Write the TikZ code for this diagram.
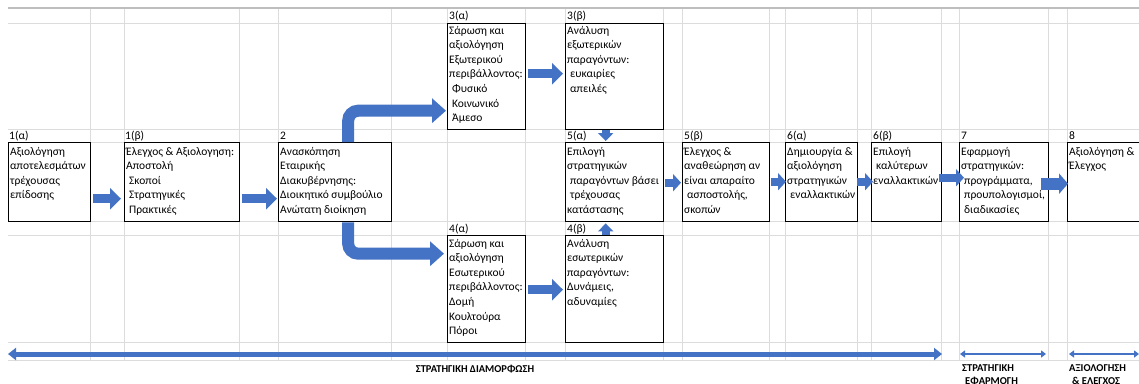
\documentclass[tikz,border=0pt]{standalone}
\usepackage{fontspec}
\setmainfont{Carlito}
\usetikzlibrary{arrows.meta}
\definecolor{arrowblue}{HTML}{4472C4}
\definecolor{gridgray}{HTML}{DCDCDC}
\definecolor{headgray}{HTML}{BEBEBE}
\newcommand{\cellfont}{\fontsize{11.5}{14.6}\selectfont}
\newcommand{\ind}{\hspace*{3pt}}
\newcommand{\celltext}[1]{\parbox[t]{200pt}{\raggedright #1}}

\begin{document}
\begin{tikzpicture}[x=1pt,y=-1pt,
  box/.style={draw=black, line width=1.4pt, fill=white, anchor=north west, inner sep=0pt},
  cell/.style={anchor=base west, inner sep=0pt, font=\cellfont},
  phase/.style={anchor=base west, inner sep=0pt, font=\fontsize{10.5}{13.5}\selectfont\bfseries},
  flow/.style={draw=arrowblue, line width=9pt, -{Triangle[length=11pt,width=21pt]}},
  flowsm/.style={draw=arrowblue, line width=8pt, -{Triangle[length=8pt,width=17pt]}},
  flowbent/.style={draw=arrowblue, line width=12pt, rounded corners=10pt, -{Triangle[length=14pt,width=24pt]}},
  span/.style={draw=arrowblue, line width=5pt, {Triangle[length=8pt,width=12pt]}-{Triangle[length=8pt,width=12pt]}},
  spansm/.style={draw=arrowblue, line width=2.5pt, {Triangle[length=5pt,width=7pt]}-{Triangle[length=5pt,width=7pt]}}]

\useasboundingbox (0,0) rectangle (1139,383);
\fill[white] (0,0) rectangle (1139,383);

% spreadsheet grid
\foreach \gx in {90,124,239,278,391,447,525,565,663,682,769,785,857,871,941,959,1048,1067}
  \draw[gridgray, line width=0.8pt] (\gx,8) -- (\gx,360);
\foreach \gy in {23,129,142,221,235,342,360}
  \draw[gridgray, line width=0.8pt] (8,\gy) -- (1139,\gy);
\draw[headgray, line width=1.5pt] (8,8) -- (1139,8);

% step labels
\node[cell] (l1a) at (9,139) {1(α)};
\node[cell] (l1b) at (125,139) {1(β)};
\node[cell] (l2)  at (280,139) {2};
\node[cell] (l3a) at (449,19) {3(α)};
\node[cell] (l3b) at (567,19) {3(β)};
\node[cell] (l5a) at (567,139) {5(α)};
\node[cell] (l5b) at (684,139) {5(β)};
\node[cell] (l6a) at (787,139) {6(α)};
\node[cell] (l6b) at (873,139) {6(β)};
\node[cell] (l7)  at (961,139) {7};
\node[cell] (l8)  at (1069,139) {8};
\node[cell] (l4a) at (449,232) {4(α)};
\node[cell] (l4b) at (567,232) {4(β)};

% boxes
\node[box, minimum width=82, minimum height=79] (s1a) at (8,142) {};
\node[box, minimum width=115, minimum height=79] (s1b) at (124,142) {};
\node[box, minimum width=113, minimum height=79] (s2) at (278,142) {};
\node[box, minimum width=78, minimum height=106] (s3a) at (447,23) {};
\node[box, minimum width=98, minimum height=106] (s3b) at (565,23) {};
\node[box, minimum width=98, minimum height=79] (s5a) at (565,142) {};
\node[box, minimum width=78, minimum height=107] (s4a) at (447,235) {};
\node[box, minimum width=98, minimum height=107] (s4b) at (565,235) {};
\node[box, minimum width=87, minimum height=79] (s5b) at (682,142) {};
\node[box, minimum width=72, minimum height=79] (s6a) at (785,142) {};
\node[box, minimum width=70, minimum height=79] (s6b) at (871,142) {};
\node[box, minimum width=89, minimum height=79] (s7) at (959,142) {};
\node[box, minimum width=80, minimum height=79] (s8) at (1067,142) {};

% box texts
\node[cell] (t1a) at (10,155) {\celltext{Αξιολόγηση\\αποτελεσμάτων\\τρέχουσας\\επίδοσης}};
\node[cell] (t1b) at (126,155) {\celltext{Έλεγχος \& Αξιολογηση:\\Αποστολή\\\ind Σκοποί\\\ind Στρατηγικές\\\ind Πρακτικές}};
\node[cell] (t2) at (280,155) {\celltext{Ανασκόπηση\\Εταιρικής\\Διακυβέρνησης:\\Διοικητικό συμβούλιο\\Ανώτατη διοίκηση}};
\node[cell] (t3a) at (449,34) {\celltext{Σάρωση και\\αξιολόγηση\\Εξωτερικού\\περιβάλλοντος:\\\ind Φυσικό\\\ind Κοινωνικό\\\ind Άμεσο}};
\node[cell] (t3b) at (567,34) {\celltext{Ανάλυση\\εξωτερικών\\παραγόντων:\\\ind ευκαιρίες\\\ind απειλές}};
\node[cell] (t5a) at (567,155) {\celltext{Επιλογή\\στρατηγικών\\\ind παραγόντων βάσει\\\ind τρέχουσας\\κατάστασης}};
\node[cell] (t4a) at (449,247) {\celltext{Σάρωση και\\αξιολόγηση\\Εσωτερικού\\περιβάλλοντος:\\Δομή\\Κουλτούρα\\Πόροι}};
\node[cell] (t4b) at (567,247) {\celltext{Ανάλυση\\εσωτερικών\\παραγόντων:\\Δυνάμεις,\\αδυναμίες}};
\node[cell] (t5b) at (684,155) {\celltext{Έλεγχος \&\\αναθεώρηση αν\\είναι απαραίτο\\\ind ασποστολής,\\σκοπών}};
\node[cell] (t6a) at (787,155) {\celltext{Δημιουργία \&\\αξιολόγηση\\στρατηγικών\\\ind εναλλακτικών}};
\node[cell] (t6b) at (873,155) {\celltext{Επιλογή\\\ind καλύτερων\\εναλλακτικών}};
\node[cell] (t7) at (961,155) {\celltext{Εφαρμογή\\στρατηγικών:\\\ind προγράμματα,\\\ind προυπολογισμοί,\\\ind διαδικασίες}};
\node[cell] (t8) at (1069,155) {\celltext{Αξιολόγηση \&\\Έλεγχος}};

% flow arrows
\draw[flow, shorten <=2pt, shorten >=3pt] ([yshift=-16.5pt]s1a.east) -- ([yshift=-16.5pt]s1b.west);
\draw[flow, shorten <=2pt, shorten >=1pt] ([yshift=-16.5pt]s1b.east) -- ([yshift=-16.5pt]s2.west);
\draw[flowbent, shorten >=1pt] ([xshift=13pt]s2.north) |- ([yshift=-34pt]s3a.west);
\draw[flowbent, shorten >=3pt] ([xshift=13pt]s2.south) |- ([yshift=35.5pt]s4a.west);
\draw[flow, shorten <=2pt, shorten >=2pt] ([yshift=3pt]s3a.east) -- ([yshift=3pt]s3b.west);
\draw[flow, shorten <=2pt, shorten >=2pt] ([yshift=-0.5pt]s4a.east) -- ([yshift=-0.5pt]s4b.west);
\draw[draw=arrowblue, line width=8pt, -{Triangle[length=8pt,width=15pt]}, shorten >=1pt] ([xshift=-9pt]s3b.south) -- ([xshift=-9pt]s5a.north);
\draw[draw=arrowblue, line width=8pt, -{Triangle[length=8pt,width=15pt]}, shorten >=1pt] ([xshift=-9pt]s4b.north) -- ([xshift=-9pt]s5a.south);
\draw[flowsm, shorten <=1pt, shorten >=1pt] ([yshift=-0.5pt]s5a.east) -- ([yshift=-0.5pt]s5b.west);
\draw[flowsm, shorten <=1pt, shorten >=-1pt] ([yshift=0.5pt]s5b.east) -- ([yshift=0.5pt]s6a.west);
\draw[flowsm, shorten <=-1pt, shorten >=-2pt] ([yshift=0.5pt]s6a.east) -- ([yshift=0.5pt]s6b.west);
\draw[flowsm, shorten <=-3pt, shorten >=-5pt] ([yshift=4.5pt]s6b.east) -- ([yshift=4.5pt]s7.west);
\draw[flow, line width=12pt, -{Triangle[length=9pt,width=20pt]}, shorten <=-8pt, shorten >=-1pt] ([yshift=-1.5pt]s7.east) -- ([yshift=-1.5pt]s8.west);

% phase spans
\coordinate (p1l) at (8,354);
\coordinate (p1r) at (942,354);
\coordinate (p2l) at (960,354);
\coordinate (p2r) at (1046,354);
\coordinate (p3l) at (1069,354);
\coordinate (p3r) at (1139,354);
\draw[span] (p1l) -- (p1r);
\draw[spansm] (p2l) -- (p2r);
\draw[spansm] (p3l) -- (p3r);

\node[phase, anchor=base] (ph1) at (475,372) {ΣΤΡΑΤΗΓΙΚΗ ΔΙΑΜΟΡΦΩΣΗ};
\node[phase] (ph2) at (962,371) {\parbox[t]{80pt}{ΣΤΡΑΤΗΓΙΚΗ\\\ind ΕΦΑΡΜΟΓΗ}};
\node[phase] (ph3) at (1069,371) {\parbox[t]{80pt}{ΑΞΙΟΛΟΓΗΣΗ\\\ind \& ΕΛΕΓΧΟΣ}};
\end{tikzpicture}
\end{document}
